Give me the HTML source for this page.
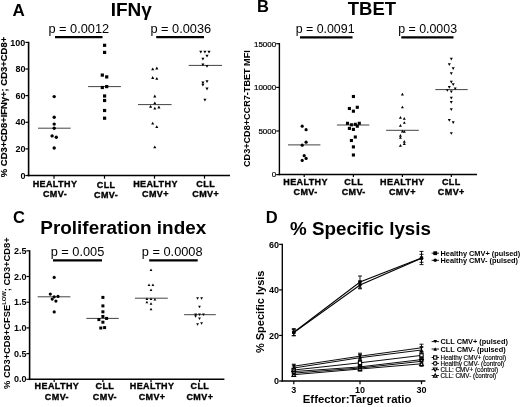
<!DOCTYPE html>
<html><head><meta charset="utf-8"><title>Figure</title>
<style>html,body{margin:0;padding:0;background:#fff}svg{display:block;filter:grayscale(1) blur(0.35px)}</style>
</head><body>
<svg width="520" height="407" viewBox="0 0 520 407" font-family='"Liberation Sans", Arial, sans-serif' fill="#000">
<rect width="520" height="407" fill="#fff"/>
<line x1="28.6" y1="41.8" x2="28.6" y2="176.3" stroke="#000" stroke-width="1.6" stroke-linecap="butt"/>
<line x1="27.8" y1="175.5" x2="230" y2="175.5" stroke="#000" stroke-width="1.6" stroke-linecap="butt"/>
<line x1="25.400000000000002" y1="175.5" x2="28.6" y2="175.5" stroke="#000" stroke-width="1.2" stroke-linecap="butt"/>
<text x="25.400000000000002" y="178.6" font-size="9" font-weight="bold" text-anchor="end">0</text>
<line x1="25.400000000000002" y1="148.9" x2="28.6" y2="148.9" stroke="#000" stroke-width="1.2" stroke-linecap="butt"/>
<text x="25.400000000000002" y="152.0" font-size="9" font-weight="bold" text-anchor="end">20</text>
<line x1="25.400000000000002" y1="122.3" x2="28.6" y2="122.3" stroke="#000" stroke-width="1.2" stroke-linecap="butt"/>
<text x="25.400000000000002" y="125.39999999999999" font-size="9" font-weight="bold" text-anchor="end">40</text>
<line x1="25.400000000000002" y1="95.6" x2="28.6" y2="95.6" stroke="#000" stroke-width="1.2" stroke-linecap="butt"/>
<text x="25.400000000000002" y="98.69999999999999" font-size="9" font-weight="bold" text-anchor="end">60</text>
<line x1="25.400000000000002" y1="69.0" x2="28.6" y2="69.0" stroke="#000" stroke-width="1.2" stroke-linecap="butt"/>
<text x="25.400000000000002" y="72.1" font-size="9" font-weight="bold" text-anchor="end">80</text>
<line x1="25.400000000000002" y1="42.4" x2="28.6" y2="42.4" stroke="#000" stroke-width="1.2" stroke-linecap="butt"/>
<text x="25.400000000000002" y="45.5" font-size="9" font-weight="bold" text-anchor="end">100</text>
<line x1="54" y1="175.5" x2="54" y2="178.7" stroke="#000" stroke-width="1.2" stroke-linecap="butt"/>
<line x1="104.5" y1="175.5" x2="104.5" y2="178.7" stroke="#000" stroke-width="1.2" stroke-linecap="butt"/>
<line x1="154.5" y1="175.5" x2="154.5" y2="178.7" stroke="#000" stroke-width="1.2" stroke-linecap="butt"/>
<line x1="204.5" y1="175.5" x2="204.5" y2="178.7" stroke="#000" stroke-width="1.2" stroke-linecap="butt"/>
<text x="55" y="187.1" font-size="9" font-weight="bold" text-anchor="middle" letter-spacing="0.4" stroke="#000" stroke-width="0.35">HEALTHY</text>
<text x="55" y="196.9" font-size="9" font-weight="bold" text-anchor="middle" letter-spacing="0.4" stroke="#000" stroke-width="0.35">CMV-</text>
<text x="106.1" y="187.7" font-size="9" font-weight="bold" text-anchor="middle" letter-spacing="0.4" stroke="#000" stroke-width="0.35">CLL</text>
<text x="106.1" y="197.5" font-size="9" font-weight="bold" text-anchor="middle" letter-spacing="0.4" stroke="#000" stroke-width="0.35">CMV-</text>
<text x="155.5" y="187.1" font-size="9" font-weight="bold" text-anchor="middle" letter-spacing="0.4" stroke="#000" stroke-width="0.35">HEALTHY</text>
<text x="155.5" y="196.9" font-size="9" font-weight="bold" text-anchor="middle" letter-spacing="0.4" stroke="#000" stroke-width="0.35">CMV+</text>
<text x="205.7" y="187.1" font-size="9" font-weight="bold" text-anchor="middle" letter-spacing="0.4" stroke="#000" stroke-width="0.35">CLL</text>
<text x="205.7" y="196.9" font-size="9" font-weight="bold" text-anchor="middle" letter-spacing="0.4" stroke="#000" stroke-width="0.35">CMV+</text>
<line x1="38" y1="128.2" x2="70.7" y2="128.2" stroke="#444" stroke-width="1.0" stroke-linecap="butt"/>
<circle cx="54.2" cy="96.6" r="1.7" fill="#000"/>
<circle cx="54.2" cy="117.3" r="1.7" fill="#000"/>
<circle cx="54.2" cy="124.1" r="1.7" fill="#000"/>
<circle cx="54.2" cy="128.2" r="1.7" fill="#000"/>
<circle cx="52.1" cy="135.9" r="1.7" fill="#000"/>
<circle cx="56.3" cy="137.3" r="1.7" fill="#000"/>
<circle cx="54.2" cy="148" r="1.7" fill="#000"/>
<line x1="88.1" y1="86.6" x2="120.9" y2="86.6" stroke="#444" stroke-width="1.0" stroke-linecap="butt"/>
<rect x="103.00" y="43.70" width="3.2" height="3.2" fill="#000"/>
<rect x="103.00" y="50.80" width="3.2" height="3.2" fill="#000"/>
<rect x="100.70" y="73.50" width="3.2" height="3.2" fill="#000"/>
<rect x="105.10" y="75.30" width="3.2" height="3.2" fill="#000"/>
<rect x="100.70" y="85.90" width="3.2" height="3.2" fill="#000"/>
<rect x="105.10" y="85.00" width="3.2" height="3.2" fill="#000"/>
<rect x="103.00" y="94.40" width="3.2" height="3.2" fill="#000"/>
<rect x="103.00" y="98.90" width="3.2" height="3.2" fill="#000"/>
<rect x="103.00" y="108.90" width="3.2" height="3.2" fill="#000"/>
<rect x="103.00" y="116.60" width="3.2" height="3.2" fill="#000"/>
<line x1="138" y1="104.6" x2="171.6" y2="104.6" stroke="#444" stroke-width="1.0" stroke-linecap="butt"/>
<polygon points="152.70,67.51 154.25,70.30 151.15,70.30" fill="#000"/>
<polygon points="156.80,66.61 158.35,69.39 155.25,69.39" fill="#000"/>
<polygon points="152.70,76.11 154.25,78.89 151.15,78.89" fill="#000"/>
<polygon points="156.80,76.91 158.35,79.69 155.25,79.69" fill="#000"/>
<polygon points="154.80,94.61 156.35,97.39 153.25,97.39" fill="#000"/>
<polygon points="154.80,101.41 156.35,104.19 153.25,104.19" fill="#000"/>
<polygon points="150.60,105.01 152.15,107.80 149.05,107.80" fill="#000"/>
<polygon points="154.80,106.70 156.35,109.49 153.25,109.49" fill="#000"/>
<polygon points="158.90,105.61 160.45,108.39 157.35,108.39" fill="#000"/>
<polygon points="152.70,121.81 154.25,124.59 151.15,124.59" fill="#000"/>
<polygon points="156.80,125.31 158.35,128.09 155.25,128.09" fill="#000"/>
<polygon points="154.80,145.41 156.35,148.20 153.25,148.20" fill="#000"/>
<line x1="188.7" y1="65.4" x2="222" y2="65.4" stroke="#444" stroke-width="1.0" stroke-linecap="butt"/>
<polygon points="200.80,53.50 202.35,50.70 199.25,50.70" fill="#000"/>
<polygon points="204.90,53.50 206.45,50.70 203.35,50.70" fill="#000"/>
<polygon points="209.00,53.50 210.55,50.70 207.45,50.70" fill="#000"/>
<polygon points="207.00,57.60 208.55,54.80 205.45,54.80" fill="#000"/>
<polygon points="202.90,60.60 204.45,57.80 201.35,57.80" fill="#000"/>
<polygon points="202.90,66.19 204.45,63.40 201.35,63.40" fill="#000"/>
<polygon points="207.00,67.69 208.55,64.91 205.45,64.91" fill="#000"/>
<polygon points="202.90,84.39 204.45,81.61 201.35,81.61" fill="#000"/>
<polygon points="207.00,82.99 208.55,80.20 205.45,80.20" fill="#000"/>
<polygon points="202.90,86.49 204.45,83.70 201.35,83.70" fill="#000"/>
<polygon points="207.00,90.39 208.55,87.61 205.45,87.61" fill="#000"/>
<polygon points="204.90,101.59 206.45,98.81 203.35,98.81" fill="#000"/>
<line x1="55" y1="37.2" x2="102.5" y2="37.2" stroke="#000" stroke-width="2.2" stroke-linecap="butt"/>
<text x="78.8" y="33.4" font-size="12.8" font-weight="normal" text-anchor="middle">p = 0.0012</text>
<line x1="156.2" y1="37.2" x2="204" y2="37.2" stroke="#000" stroke-width="2.2" stroke-linecap="butt"/>
<text x="180.8" y="33.4" font-size="12.8" font-weight="normal" text-anchor="middle">p = 0.0036</text>
<line x1="279.4" y1="43.1" x2="279.4" y2="175.2" stroke="#000" stroke-width="1.4" stroke-linecap="butt"/>
<line x1="278.7" y1="174.5" x2="477" y2="174.5" stroke="#000" stroke-width="1.4" stroke-linecap="butt"/>
<line x1="276.2" y1="174.6" x2="279.4" y2="174.6" stroke="#000" stroke-width="1.2" stroke-linecap="butt"/>
<text x="276.2" y="177.4" font-size="8" font-weight="normal" text-anchor="end" stroke="#000" stroke-width="0.22">0</text>
<line x1="276.2" y1="131.0" x2="279.4" y2="131.0" stroke="#000" stroke-width="1.2" stroke-linecap="butt"/>
<text x="276.2" y="133.8" font-size="8" font-weight="normal" text-anchor="end" stroke="#000" stroke-width="0.22">5000</text>
<line x1="276.2" y1="87.4" x2="279.4" y2="87.4" stroke="#000" stroke-width="1.2" stroke-linecap="butt"/>
<text x="276.2" y="90.2" font-size="8" font-weight="normal" text-anchor="end" stroke="#000" stroke-width="0.22">10000</text>
<line x1="276.2" y1="43.7" x2="279.4" y2="43.7" stroke="#000" stroke-width="1.2" stroke-linecap="butt"/>
<text x="276.2" y="46.5" font-size="8" font-weight="normal" text-anchor="end" stroke="#000" stroke-width="0.22">15000</text>
<line x1="304.2" y1="174.5" x2="304.2" y2="177.1" stroke="#000" stroke-width="1.2" stroke-linecap="butt"/>
<line x1="353.4" y1="174.5" x2="353.4" y2="177.1" stroke="#000" stroke-width="1.2" stroke-linecap="butt"/>
<line x1="402.4" y1="174.5" x2="402.4" y2="177.1" stroke="#000" stroke-width="1.2" stroke-linecap="butt"/>
<line x1="451.3" y1="174.5" x2="451.3" y2="177.1" stroke="#000" stroke-width="1.2" stroke-linecap="butt"/>
<text x="305.59999999999997" y="184.9" font-size="9" font-weight="bold" text-anchor="middle" letter-spacing="0.4" stroke="#000" stroke-width="0.35">HEALTHY</text>
<text x="305.59999999999997" y="195.1" font-size="9" font-weight="bold" text-anchor="middle" letter-spacing="0.4" stroke="#000" stroke-width="0.35">CMV-</text>
<text x="353.7" y="184.9" font-size="9" font-weight="bold" text-anchor="middle" letter-spacing="0.4" stroke="#000" stroke-width="0.35">CLL</text>
<text x="353.7" y="195.1" font-size="9" font-weight="bold" text-anchor="middle" letter-spacing="0.4" stroke="#000" stroke-width="0.35">CMV-</text>
<text x="402.4" y="184.9" font-size="9" font-weight="bold" text-anchor="middle" letter-spacing="0.4" stroke="#000" stroke-width="0.35">HEALTHY</text>
<text x="402.4" y="195.1" font-size="9" font-weight="bold" text-anchor="middle" letter-spacing="0.4" stroke="#000" stroke-width="0.35">CMV+</text>
<text x="451.3" y="184.9" font-size="9" font-weight="bold" text-anchor="middle" letter-spacing="0.4" stroke="#000" stroke-width="0.35">CLL</text>
<text x="451.3" y="195.1" font-size="9" font-weight="bold" text-anchor="middle" letter-spacing="0.4" stroke="#000" stroke-width="0.35">CMV+</text>
<line x1="288" y1="144.9" x2="320.4" y2="144.9" stroke="#444" stroke-width="1.0" stroke-linecap="butt"/>
<circle cx="302.2" cy="126.2" r="1.6" fill="#000"/>
<circle cx="306.1" cy="129.7" r="1.6" fill="#000"/>
<circle cx="306.1" cy="142.2" r="1.6" fill="#000"/>
<circle cx="302.2" cy="145.2" r="1.6" fill="#000"/>
<circle cx="304.2" cy="155.7" r="1.6" fill="#000"/>
<circle cx="306.1" cy="158.4" r="1.6" fill="#000"/>
<circle cx="302.2" cy="160.4" r="1.6" fill="#000"/>
<line x1="336.9" y1="125" x2="369.3" y2="125" stroke="#444" stroke-width="1.0" stroke-linecap="butt"/>
<rect x="351.85" y="94.95" width="3.1" height="3.1" fill="#000"/>
<rect x="347.85" y="106.95" width="3.1" height="3.1" fill="#000"/>
<rect x="355.75" y="105.75" width="3.1" height="3.1" fill="#000"/>
<rect x="351.85" y="109.65" width="3.1" height="3.1" fill="#000"/>
<rect x="345.95" y="121.75" width="3.1" height="3.1" fill="#000"/>
<rect x="349.85" y="123.25" width="3.1" height="3.1" fill="#000"/>
<rect x="353.75" y="122.75" width="3.1" height="3.1" fill="#000"/>
<rect x="357.75" y="121.75" width="3.1" height="3.1" fill="#000"/>
<rect x="355.75" y="124.65" width="3.1" height="3.1" fill="#000"/>
<rect x="347.85" y="126.85" width="3.1" height="3.1" fill="#000"/>
<rect x="351.85" y="127.85" width="3.1" height="3.1" fill="#000"/>
<rect x="353.75" y="135.45" width="3.1" height="3.1" fill="#000"/>
<rect x="349.85" y="138.95" width="3.1" height="3.1" fill="#000"/>
<rect x="351.85" y="145.35" width="3.1" height="3.1" fill="#000"/>
<rect x="351.85" y="153.45" width="3.1" height="3.1" fill="#000"/>
<line x1="386.1" y1="130.3" x2="418.8" y2="130.3" stroke="#444" stroke-width="1.0" stroke-linecap="butt"/>
<polygon points="402.40,92.85 403.90,95.55 400.90,95.55" fill="#000"/>
<polygon points="402.40,105.65 403.90,108.35 400.90,108.35" fill="#000"/>
<polygon points="400.40,115.95 401.90,118.65 398.90,118.65" fill="#000"/>
<polygon points="404.30,116.95 405.80,119.65 402.80,119.65" fill="#000"/>
<polygon points="404.30,121.15 405.80,123.85 402.80,123.85" fill="#000"/>
<polygon points="400.40,124.05 401.90,126.75 398.90,126.75" fill="#000"/>
<polygon points="402.40,129.75 403.90,132.45 400.90,132.45" fill="#000"/>
<polygon points="404.30,129.95 405.80,132.65 402.80,132.65" fill="#000"/>
<polygon points="400.40,133.95 401.90,136.65 398.90,136.65" fill="#000"/>
<polygon points="400.40,136.15 401.90,138.85 398.90,138.85" fill="#000"/>
<polygon points="404.30,140.05 405.80,142.75 402.80,142.75" fill="#000"/>
<polygon points="404.30,142.25 405.80,144.95 402.80,144.95" fill="#000"/>
<polygon points="400.40,143.95 401.90,146.65 398.90,146.65" fill="#000"/>
<line x1="435.3" y1="89.6" x2="467.7" y2="89.6" stroke="#444" stroke-width="1.0" stroke-linecap="butt"/>
<polygon points="451.30,60.45 452.80,57.75 449.80,57.75" fill="#000"/>
<polygon points="449.30,66.05 450.80,63.35 447.80,63.35" fill="#000"/>
<polygon points="453.20,70.05 454.70,67.35 451.70,67.35" fill="#000"/>
<polygon points="451.30,74.95 452.80,72.25 449.80,72.25" fill="#000"/>
<polygon points="451.30,83.55 452.80,80.85 449.80,80.85" fill="#000"/>
<polygon points="453.20,85.95 454.70,83.25 451.70,83.25" fill="#000"/>
<polygon points="449.30,88.65 450.80,85.95 447.80,85.95" fill="#000"/>
<polygon points="455.20,90.15 456.70,87.45 453.70,87.45" fill="#000"/>
<polygon points="447.30,91.85 448.80,89.15 445.80,89.15" fill="#000"/>
<polygon points="451.30,93.15 452.80,90.45 449.80,90.45" fill="#000"/>
<polygon points="451.30,99.55 452.80,96.85 449.80,96.85" fill="#000"/>
<polygon points="451.30,103.65 452.80,100.95 449.80,100.95" fill="#000"/>
<polygon points="451.30,111.05 452.80,108.35 449.80,108.35" fill="#000"/>
<polygon points="449.30,121.65 450.80,118.95 447.80,118.95" fill="#000"/>
<polygon points="453.20,124.05 454.70,121.35 451.70,121.35" fill="#000"/>
<polygon points="451.30,134.85 452.80,132.15 449.80,132.15" fill="#000"/>
<line x1="300" y1="37.3" x2="352.5" y2="37.3" stroke="#000" stroke-width="2.2" stroke-linecap="butt"/>
<text x="325.1" y="33.1" font-size="12.4" font-weight="normal" text-anchor="middle">p = 0.0091</text>
<line x1="401.3" y1="37.3" x2="453.5" y2="37.3" stroke="#000" stroke-width="2.2" stroke-linecap="butt"/>
<text x="427.6" y="33.1" font-size="12.4" font-weight="normal" text-anchor="middle">p = 0.0003</text>
<line x1="29.6" y1="250.20000000000002" x2="29.6" y2="380.1" stroke="#000" stroke-width="1.6" stroke-linecap="butt"/>
<line x1="28.8" y1="379.3" x2="224.4" y2="379.3" stroke="#000" stroke-width="1.6" stroke-linecap="butt"/>
<line x1="26.400000000000002" y1="379.3" x2="29.6" y2="379.3" stroke="#000" stroke-width="1.2" stroke-linecap="butt"/>
<text x="26.400000000000002" y="382.40000000000003" font-size="9" font-weight="bold" text-anchor="end">0.0</text>
<line x1="26.400000000000002" y1="353.6" x2="29.6" y2="353.6" stroke="#000" stroke-width="1.2" stroke-linecap="butt"/>
<text x="26.400000000000002" y="356.70000000000005" font-size="9" font-weight="bold" text-anchor="end">0.5</text>
<line x1="26.400000000000002" y1="327.9" x2="29.6" y2="327.9" stroke="#000" stroke-width="1.2" stroke-linecap="butt"/>
<text x="26.400000000000002" y="331.0" font-size="9" font-weight="bold" text-anchor="end">1.0</text>
<line x1="26.400000000000002" y1="302.2" x2="29.6" y2="302.2" stroke="#000" stroke-width="1.2" stroke-linecap="butt"/>
<text x="26.400000000000002" y="305.3" font-size="9" font-weight="bold" text-anchor="end">1.5</text>
<line x1="26.400000000000002" y1="276.5" x2="29.6" y2="276.5" stroke="#000" stroke-width="1.2" stroke-linecap="butt"/>
<text x="26.400000000000002" y="279.6" font-size="9" font-weight="bold" text-anchor="end">2.0</text>
<line x1="26.400000000000002" y1="250.8" x2="29.6" y2="250.8" stroke="#000" stroke-width="1.2" stroke-linecap="butt"/>
<text x="26.400000000000002" y="253.9" font-size="9" font-weight="bold" text-anchor="end">2.5</text>
<line x1="54.2" y1="379.3" x2="54.2" y2="381.90000000000003" stroke="#000" stroke-width="1.2" stroke-linecap="butt"/>
<line x1="102.9" y1="379.3" x2="102.9" y2="381.90000000000003" stroke="#000" stroke-width="1.2" stroke-linecap="butt"/>
<line x1="151.0" y1="379.3" x2="151.0" y2="381.90000000000003" stroke="#000" stroke-width="1.2" stroke-linecap="butt"/>
<line x1="199.5" y1="379.3" x2="199.5" y2="381.90000000000003" stroke="#000" stroke-width="1.2" stroke-linecap="butt"/>
<text x="56.900000000000006" y="389.3" font-size="9" font-weight="bold" text-anchor="middle" letter-spacing="0.4" stroke="#000" stroke-width="0.35">HEALTHY</text>
<text x="56.900000000000006" y="399.5" font-size="9" font-weight="bold" text-anchor="middle" letter-spacing="0.4" stroke="#000" stroke-width="0.35">CMV-</text>
<text x="104.9" y="389.3" font-size="9" font-weight="bold" text-anchor="middle" letter-spacing="0.4" stroke="#000" stroke-width="0.35">CLL</text>
<text x="104.9" y="399.5" font-size="9" font-weight="bold" text-anchor="middle" letter-spacing="0.4" stroke="#000" stroke-width="0.35">CMV-</text>
<text x="152.1" y="389.3" font-size="9" font-weight="bold" text-anchor="middle" letter-spacing="0.4" stroke="#000" stroke-width="0.35">HEALTHY</text>
<text x="152.1" y="399.5" font-size="9" font-weight="bold" text-anchor="middle" letter-spacing="0.4" stroke="#000" stroke-width="0.35">CMV+</text>
<text x="199.9" y="389.3" font-size="9" font-weight="bold" text-anchor="middle" letter-spacing="0.4" stroke="#000" stroke-width="0.35">CLL</text>
<text x="199.9" y="399.5" font-size="9" font-weight="bold" text-anchor="middle" letter-spacing="0.4" stroke="#000" stroke-width="0.35">CMV+</text>
<line x1="37.7" y1="296.8" x2="70.4" y2="296.8" stroke="#444" stroke-width="1.0" stroke-linecap="butt"/>
<circle cx="54.2" cy="277.4" r="1.6" fill="#000"/>
<circle cx="50.3" cy="294.1" r="1.6" fill="#000"/>
<circle cx="54.2" cy="296.8" r="1.6" fill="#000"/>
<circle cx="58" cy="296.4" r="1.6" fill="#000"/>
<circle cx="52.2" cy="299.1" r="1.6" fill="#000"/>
<circle cx="55.9" cy="301.1" r="1.6" fill="#000"/>
<circle cx="54.2" cy="311.9" r="1.6" fill="#000"/>
<line x1="86.4" y1="318.4" x2="118.8" y2="318.4" stroke="#444" stroke-width="1.0" stroke-linecap="butt"/>
<rect x="101.40" y="295.90" width="3.0" height="3.0" fill="#000"/>
<rect x="101.40" y="304.40" width="3.0" height="3.0" fill="#000"/>
<rect x="101.40" y="310.30" width="3.0" height="3.0" fill="#000"/>
<rect x="101.40" y="315.00" width="3.0" height="3.0" fill="#000"/>
<rect x="97.40" y="318.10" width="3.0" height="3.0" fill="#000"/>
<rect x="105.10" y="316.90" width="3.0" height="3.0" fill="#000"/>
<rect x="101.40" y="320.70" width="3.0" height="3.0" fill="#000"/>
<rect x="99.30" y="326.50" width="3.0" height="3.0" fill="#000"/>
<rect x="103.10" y="326.10" width="3.0" height="3.0" fill="#000"/>
<line x1="135" y1="298.2" x2="167.8" y2="298.2" stroke="#444" stroke-width="1.0" stroke-linecap="butt"/>
<polygon points="151.00,268.44 152.40,270.96 149.60,270.96" fill="#000"/>
<polygon points="149.00,283.44 150.40,285.96 147.60,285.96" fill="#000"/>
<polygon points="152.90,283.44 154.30,285.96 151.50,285.96" fill="#000"/>
<polygon points="151.00,288.44 152.40,290.96 149.60,290.96" fill="#000"/>
<polygon points="146.90,297.54 148.30,300.06 145.50,300.06" fill="#000"/>
<polygon points="151.00,297.54 152.40,300.06 149.60,300.06" fill="#000"/>
<polygon points="154.90,297.94 156.30,300.46 153.50,300.46" fill="#000"/>
<polygon points="146.90,300.84 148.30,303.36 145.50,303.36" fill="#000"/>
<polygon points="151.00,302.34 152.40,304.86 149.60,304.86" fill="#000"/>
<polygon points="151.00,307.74 152.40,310.26 149.60,310.26" fill="#000"/>
<line x1="184.1" y1="314.7" x2="215.8" y2="314.7" stroke="#444" stroke-width="1.0" stroke-linecap="butt"/>
<polygon points="197.60,299.76 199.00,297.24 196.20,297.24" fill="#000"/>
<polygon points="201.60,299.76 203.00,297.24 200.20,297.24" fill="#000"/>
<polygon points="199.50,308.26 200.90,305.74 198.10,305.74" fill="#000"/>
<polygon points="195.60,315.96 197.00,313.44 194.20,313.44" fill="#000"/>
<polygon points="199.50,315.96 200.90,313.44 198.10,313.44" fill="#000"/>
<polygon points="203.50,315.96 204.90,313.44 202.10,313.44" fill="#000"/>
<polygon points="195.60,317.66 197.00,315.14 194.20,315.14" fill="#000"/>
<polygon points="199.50,320.06 200.90,317.54 198.10,317.54" fill="#000"/>
<polygon points="197.60,325.86 199.00,323.34 196.20,323.34" fill="#000"/>
<polygon points="201.60,324.76 203.00,322.24 200.20,322.24" fill="#000"/>
<line x1="53" y1="260.3" x2="102" y2="260.3" stroke="#000" stroke-width="2.2" stroke-linecap="butt"/>
<text x="77.5" y="255.5" font-size="12.8" font-weight="normal" text-anchor="middle">p = 0.005</text>
<line x1="149.2" y1="260.3" x2="197.7" y2="260.3" stroke="#000" stroke-width="2.2" stroke-linecap="butt"/>
<text x="172.2" y="255.5" font-size="12.8" font-weight="normal" text-anchor="middle">p = 0.0008</text>
<text x="12.6" y="16" font-size="17" font-weight="bold" text-anchor="start">A</text>
<text x="131.3" y="15.6" font-size="19" font-weight="bold" text-anchor="middle">IFNγ</text>
<text x="257" y="12.3" font-size="16.5" font-weight="bold" text-anchor="start">B</text>
<text x="371.9" y="15.2" font-size="18.5" font-weight="bold" text-anchor="middle">TBET</text>
<text x="13" y="223.4" font-size="16.5" font-weight="bold" text-anchor="start">C</text>
<text x="123.3" y="234.4" font-size="18.9" font-weight="bold" text-anchor="middle">Proliferation index</text>
<text x="265.8" y="223.3" font-size="16.5" font-weight="bold" text-anchor="start">D</text>
<text x="360.5" y="235.2" font-size="18.8" font-weight="bold" text-anchor="middle">% Specific lysis</text>
<text x="6.9" y="107" font-size="9.45" font-weight="bold" text-anchor="middle" transform="rotate(-90 6.9 107)" stroke="#000" stroke-width="0.15">% CD3+CD8+IFNγ+; CD3+CD8+</text>
<text x="250.4" y="108.6" font-size="9.1" font-weight="bold" text-anchor="middle" transform="rotate(-90 250.4 108.6)">CD3+CD8+CCR7-TBET MFI</text>
<text x="9.6" y="313.1" font-size="9.35" font-weight="bold" text-anchor="middle" transform="rotate(-90 9.6 313.1)">% CD3+CD8+CFSE<tspan font-size="5.8" dy="-3.6">LOW</tspan><tspan dy="3.6">; CD3+CD8+</tspan></text>
<line x1="282.3" y1="243.75000000000003" x2="282.3" y2="381.675" stroke="#000" stroke-width="1.35" stroke-linecap="butt"/>
<line x1="281.625" y1="381.0" x2="425.4" y2="381.0" stroke="#000" stroke-width="1.35" stroke-linecap="butt"/>
<line x1="279.1" y1="381.0" x2="282.3" y2="381.0" stroke="#000" stroke-width="1.2" stroke-linecap="butt"/>
<text x="279.1" y="384.2" font-size="9" font-weight="bold" text-anchor="end">0</text>
<line x1="279.1" y1="335.45" x2="282.3" y2="335.45" stroke="#000" stroke-width="1.2" stroke-linecap="butt"/>
<text x="279.1" y="338.65" font-size="9" font-weight="bold" text-anchor="end">20</text>
<line x1="279.1" y1="289.9" x2="282.3" y2="289.9" stroke="#000" stroke-width="1.2" stroke-linecap="butt"/>
<text x="279.1" y="293.09999999999997" font-size="9" font-weight="bold" text-anchor="end">40</text>
<line x1="279.1" y1="244.35000000000002" x2="282.3" y2="244.35000000000002" stroke="#000" stroke-width="1.2" stroke-linecap="butt"/>
<text x="279.1" y="247.55" font-size="9" font-weight="bold" text-anchor="end">60</text>
<line x1="293.8" y1="381.0" x2="293.8" y2="384.2" stroke="#000" stroke-width="1.2" stroke-linecap="butt"/>
<text x="293.8" y="393.2" font-size="9" font-weight="bold" text-anchor="middle">3</text>
<line x1="360" y1="381.0" x2="360" y2="384.2" stroke="#000" stroke-width="1.2" stroke-linecap="butt"/>
<text x="360" y="393.2" font-size="9" font-weight="bold" text-anchor="middle">10</text>
<line x1="421.5" y1="381.0" x2="421.5" y2="384.2" stroke="#000" stroke-width="1.2" stroke-linecap="butt"/>
<text x="421.5" y="393.2" font-size="9" font-weight="bold" text-anchor="middle">30</text>
<text x="357.1" y="403.4" font-size="11.4" font-weight="bold" text-anchor="middle">Effector:Target ratio</text>
<text x="264" y="311.8" font-size="11" font-weight="bold" text-anchor="middle" transform="rotate(-90 264 311.8)">% Specific lysis</text>
<polyline points="293.8,332.2 360,282.0 421.5,258.0" fill="none" stroke="#000" stroke-width="1.1"/>
<line x1="293.8" y1="328.59999999999997" x2="293.8" y2="335.8" stroke="#000" stroke-width="0.9" stroke-linecap="butt"/>
<line x1="291.8" y1="328.59999999999997" x2="295.8" y2="328.59999999999997" stroke="#000" stroke-width="0.9" stroke-linecap="butt"/>
<line x1="291.8" y1="335.8" x2="295.8" y2="335.8" stroke="#000" stroke-width="0.9" stroke-linecap="butt"/>
<line x1="360" y1="276.0" x2="360" y2="288.0" stroke="#000" stroke-width="0.9" stroke-linecap="butt"/>
<line x1="358" y1="276.0" x2="362" y2="276.0" stroke="#000" stroke-width="0.9" stroke-linecap="butt"/>
<line x1="358" y1="288.0" x2="362" y2="288.0" stroke="#000" stroke-width="0.9" stroke-linecap="butt"/>
<line x1="421.5" y1="251.4" x2="421.5" y2="264.6" stroke="#000" stroke-width="0.9" stroke-linecap="butt"/>
<line x1="419.5" y1="251.4" x2="423.5" y2="251.4" stroke="#000" stroke-width="0.9" stroke-linecap="butt"/>
<line x1="419.5" y1="264.6" x2="423.5" y2="264.6" stroke="#000" stroke-width="0.9" stroke-linecap="butt"/>
<rect x="292.15" y="330.55" width="3.3" height="3.3" fill="#000"/>
<rect x="358.35" y="280.35" width="3.3" height="3.3" fill="#000"/>
<rect x="419.85" y="256.35" width="3.3" height="3.3" fill="#000"/>
<polyline points="293.8,332.6 360,285.0 421.5,258.3" fill="none" stroke="#000" stroke-width="1.1"/>
<line x1="293.8" y1="329.6" x2="293.8" y2="335.6" stroke="#000" stroke-width="0.9" stroke-linecap="butt"/>
<line x1="291.8" y1="329.6" x2="295.8" y2="329.6" stroke="#000" stroke-width="0.9" stroke-linecap="butt"/>
<line x1="291.8" y1="335.6" x2="295.8" y2="335.6" stroke="#000" stroke-width="0.9" stroke-linecap="butt"/>
<line x1="360" y1="281.2" x2="360" y2="288.8" stroke="#000" stroke-width="0.9" stroke-linecap="butt"/>
<line x1="358" y1="281.2" x2="362" y2="281.2" stroke="#000" stroke-width="0.9" stroke-linecap="butt"/>
<line x1="358" y1="288.8" x2="362" y2="288.8" stroke="#000" stroke-width="0.9" stroke-linecap="butt"/>
<line x1="421.5" y1="254.3" x2="421.5" y2="262.3" stroke="#000" stroke-width="0.9" stroke-linecap="butt"/>
<line x1="419.5" y1="254.3" x2="423.5" y2="254.3" stroke="#000" stroke-width="0.9" stroke-linecap="butt"/>
<line x1="419.5" y1="262.3" x2="423.5" y2="262.3" stroke="#000" stroke-width="0.9" stroke-linecap="butt"/>
<circle cx="293.8" cy="332.6" r="1.75" fill="#000"/>
<circle cx="360" cy="285.0" r="1.75" fill="#000"/>
<circle cx="421.5" cy="258.3" r="1.75" fill="#000"/>
<polyline points="293.8,366.2 360,356.2 421.5,347.8" fill="none" stroke="#000" stroke-width="0.95"/>
<line x1="293.8" y1="364.2" x2="293.8" y2="368.2" stroke="#000" stroke-width="0.9" stroke-linecap="butt"/>
<line x1="291.8" y1="364.2" x2="295.8" y2="364.2" stroke="#000" stroke-width="0.9" stroke-linecap="butt"/>
<line x1="291.8" y1="368.2" x2="295.8" y2="368.2" stroke="#000" stroke-width="0.9" stroke-linecap="butt"/>
<line x1="360" y1="353.2" x2="360" y2="359.2" stroke="#000" stroke-width="0.9" stroke-linecap="butt"/>
<line x1="358" y1="353.2" x2="362" y2="353.2" stroke="#000" stroke-width="0.9" stroke-linecap="butt"/>
<line x1="358" y1="359.2" x2="362" y2="359.2" stroke="#000" stroke-width="0.9" stroke-linecap="butt"/>
<line x1="421.5" y1="344.2" x2="421.5" y2="351.40000000000003" stroke="#000" stroke-width="0.9" stroke-linecap="butt"/>
<line x1="419.5" y1="344.2" x2="423.5" y2="344.2" stroke="#000" stroke-width="0.9" stroke-linecap="butt"/>
<line x1="419.5" y1="351.40000000000003" x2="423.5" y2="351.40000000000003" stroke="#000" stroke-width="0.9" stroke-linecap="butt"/>
<polygon points="293.80,367.87 295.65,364.53 291.95,364.53" fill="#000"/>
<polygon points="360.00,357.87 361.85,354.53 358.15,354.53" fill="#000"/>
<polygon points="421.50,349.47 423.35,346.13 419.65,346.13" fill="#000"/>
<polyline points="293.8,368.0 360,357.7 421.5,350.0" fill="none" stroke="#000" stroke-width="0.95"/>
<line x1="293.8" y1="366.0" x2="293.8" y2="370.0" stroke="#000" stroke-width="0.9" stroke-linecap="butt"/>
<line x1="291.8" y1="366.0" x2="295.8" y2="366.0" stroke="#000" stroke-width="0.9" stroke-linecap="butt"/>
<line x1="291.8" y1="370.0" x2="295.8" y2="370.0" stroke="#000" stroke-width="0.9" stroke-linecap="butt"/>
<line x1="360" y1="354.7" x2="360" y2="360.7" stroke="#000" stroke-width="0.9" stroke-linecap="butt"/>
<line x1="358" y1="354.7" x2="362" y2="354.7" stroke="#000" stroke-width="0.9" stroke-linecap="butt"/>
<line x1="358" y1="360.7" x2="362" y2="360.7" stroke="#000" stroke-width="0.9" stroke-linecap="butt"/>
<line x1="421.5" y1="347.0" x2="421.5" y2="353.0" stroke="#000" stroke-width="0.9" stroke-linecap="butt"/>
<line x1="419.5" y1="347.0" x2="423.5" y2="347.0" stroke="#000" stroke-width="0.9" stroke-linecap="butt"/>
<line x1="419.5" y1="353.0" x2="423.5" y2="353.0" stroke="#000" stroke-width="0.9" stroke-linecap="butt"/>
<polygon points="293.80,366.33 295.65,369.67 291.95,369.67" fill="#000"/>
<polygon points="360.00,356.03 361.85,359.37 358.15,359.37" fill="#000"/>
<polygon points="421.50,348.33 423.35,351.67 419.65,351.67" fill="#000"/>
<polyline points="293.8,370.0 360,362.8 421.5,355.4" fill="none" stroke="#000" stroke-width="0.95"/>
<line x1="293.8" y1="368.5" x2="293.8" y2="371.5" stroke="#000" stroke-width="0.9" stroke-linecap="butt"/>
<line x1="291.8" y1="368.5" x2="295.8" y2="368.5" stroke="#000" stroke-width="0.9" stroke-linecap="butt"/>
<line x1="291.8" y1="371.5" x2="295.8" y2="371.5" stroke="#000" stroke-width="0.9" stroke-linecap="butt"/>
<line x1="360" y1="360.8" x2="360" y2="364.8" stroke="#000" stroke-width="0.9" stroke-linecap="butt"/>
<line x1="358" y1="360.8" x2="362" y2="360.8" stroke="#000" stroke-width="0.9" stroke-linecap="butt"/>
<line x1="358" y1="364.8" x2="362" y2="364.8" stroke="#000" stroke-width="0.9" stroke-linecap="butt"/>
<line x1="421.5" y1="352.9" x2="421.5" y2="357.9" stroke="#000" stroke-width="0.9" stroke-linecap="butt"/>
<line x1="419.5" y1="352.9" x2="423.5" y2="352.9" stroke="#000" stroke-width="0.9" stroke-linecap="butt"/>
<line x1="419.5" y1="357.9" x2="423.5" y2="357.9" stroke="#000" stroke-width="0.9" stroke-linecap="butt"/>
<rect x="292.15" y="368.35" width="3.3" height="3.3" fill="#fff" stroke="#000" stroke-width="1.1"/>
<rect x="358.35" y="361.15" width="3.3" height="3.3" fill="#fff" stroke="#000" stroke-width="1.1"/>
<rect x="419.85" y="353.75" width="3.3" height="3.3" fill="#fff" stroke="#000" stroke-width="1.1"/>
<polyline points="293.8,371.6 360,366.9 421.5,359.6" fill="none" stroke="#000" stroke-width="0.95"/>
<line x1="293.8" y1="370.1" x2="293.8" y2="373.1" stroke="#000" stroke-width="0.9" stroke-linecap="butt"/>
<line x1="291.8" y1="370.1" x2="295.8" y2="370.1" stroke="#000" stroke-width="0.9" stroke-linecap="butt"/>
<line x1="291.8" y1="373.1" x2="295.8" y2="373.1" stroke="#000" stroke-width="0.9" stroke-linecap="butt"/>
<line x1="360" y1="364.9" x2="360" y2="368.9" stroke="#000" stroke-width="0.9" stroke-linecap="butt"/>
<line x1="358" y1="364.9" x2="362" y2="364.9" stroke="#000" stroke-width="0.9" stroke-linecap="butt"/>
<line x1="358" y1="368.9" x2="362" y2="368.9" stroke="#000" stroke-width="0.9" stroke-linecap="butt"/>
<line x1="421.5" y1="357.1" x2="421.5" y2="362.1" stroke="#000" stroke-width="0.9" stroke-linecap="butt"/>
<line x1="419.5" y1="357.1" x2="423.5" y2="357.1" stroke="#000" stroke-width="0.9" stroke-linecap="butt"/>
<line x1="419.5" y1="362.1" x2="423.5" y2="362.1" stroke="#000" stroke-width="0.9" stroke-linecap="butt"/>
<circle cx="293.8" cy="371.6" r="1.75" fill="#fff" stroke="#000" stroke-width="1.1"/>
<circle cx="360" cy="366.9" r="1.75" fill="#fff" stroke="#000" stroke-width="1.1"/>
<circle cx="421.5" cy="359.6" r="1.75" fill="#fff" stroke="#000" stroke-width="1.1"/>
<polyline points="293.8,373.1 360,368.0 421.5,361.3" fill="none" stroke="#000" stroke-width="0.95"/>
<line x1="293.8" y1="371.6" x2="293.8" y2="374.6" stroke="#000" stroke-width="0.9" stroke-linecap="butt"/>
<line x1="291.8" y1="371.6" x2="295.8" y2="371.6" stroke="#000" stroke-width="0.9" stroke-linecap="butt"/>
<line x1="291.8" y1="374.6" x2="295.8" y2="374.6" stroke="#000" stroke-width="0.9" stroke-linecap="butt"/>
<line x1="360" y1="366.0" x2="360" y2="370.0" stroke="#000" stroke-width="0.9" stroke-linecap="butt"/>
<line x1="358" y1="366.0" x2="362" y2="366.0" stroke="#000" stroke-width="0.9" stroke-linecap="butt"/>
<line x1="358" y1="370.0" x2="362" y2="370.0" stroke="#000" stroke-width="0.9" stroke-linecap="butt"/>
<line x1="421.5" y1="358.8" x2="421.5" y2="363.8" stroke="#000" stroke-width="0.9" stroke-linecap="butt"/>
<line x1="419.5" y1="358.8" x2="423.5" y2="358.8" stroke="#000" stroke-width="0.9" stroke-linecap="butt"/>
<line x1="419.5" y1="363.8" x2="423.5" y2="363.8" stroke="#000" stroke-width="0.9" stroke-linecap="butt"/>
<polygon points="293.80,374.77 295.65,371.44 291.95,371.44" fill="#fff" stroke="#000" stroke-width="1.1"/>
<polygon points="360.00,369.67 361.85,366.33 358.15,366.33" fill="#fff" stroke="#000" stroke-width="1.1"/>
<polygon points="421.50,362.97 423.35,359.63 419.65,359.63" fill="#fff" stroke="#000" stroke-width="1.1"/>
<polyline points="293.8,374.7 360,369.0 421.5,363.8" fill="none" stroke="#000" stroke-width="0.95"/>
<line x1="293.8" y1="373.2" x2="293.8" y2="376.2" stroke="#000" stroke-width="0.9" stroke-linecap="butt"/>
<line x1="291.8" y1="373.2" x2="295.8" y2="373.2" stroke="#000" stroke-width="0.9" stroke-linecap="butt"/>
<line x1="291.8" y1="376.2" x2="295.8" y2="376.2" stroke="#000" stroke-width="0.9" stroke-linecap="butt"/>
<line x1="360" y1="367.0" x2="360" y2="371.0" stroke="#000" stroke-width="0.9" stroke-linecap="butt"/>
<line x1="358" y1="367.0" x2="362" y2="367.0" stroke="#000" stroke-width="0.9" stroke-linecap="butt"/>
<line x1="358" y1="371.0" x2="362" y2="371.0" stroke="#000" stroke-width="0.9" stroke-linecap="butt"/>
<line x1="421.5" y1="361.3" x2="421.5" y2="366.3" stroke="#000" stroke-width="0.9" stroke-linecap="butt"/>
<line x1="419.5" y1="361.3" x2="423.5" y2="361.3" stroke="#000" stroke-width="0.9" stroke-linecap="butt"/>
<line x1="419.5" y1="366.3" x2="423.5" y2="366.3" stroke="#000" stroke-width="0.9" stroke-linecap="butt"/>
<polygon points="293.80,373.03 295.65,376.37 291.95,376.37" fill="#fff" stroke="#000" stroke-width="1.1"/>
<polygon points="360.00,367.33 361.85,370.67 358.15,370.67" fill="#fff" stroke="#000" stroke-width="1.1"/>
<polygon points="421.50,362.13 423.35,365.47 419.65,365.47" fill="#fff" stroke="#000" stroke-width="1.1"/>
<line x1="431.6" y1="253.2" x2="439" y2="253.2" stroke="#000" stroke-width="0.9" stroke-linecap="butt"/>
<rect x="433.30" y="251.30" width="3.7949999999999995" height="3.7949999999999995" fill="#000"/>
<text x="440.5" y="255.79999999999998" font-size="7.35" font-weight="bold" text-anchor="start">Healthy CMV+ (pulsed)</text>
<line x1="431.6" y1="260.3" x2="439" y2="260.3" stroke="#000" stroke-width="0.9" stroke-linecap="butt"/>
<circle cx="435.2" cy="260.3" r="1.75" fill="#000"/>
<text x="440.5" y="262.90000000000003" font-size="7.35" font-weight="bold" text-anchor="start">Healthy CMV- (pulsed)</text>
<line x1="431.6" y1="341.6" x2="439" y2="341.6" stroke="#000" stroke-width="0.9" stroke-linecap="butt"/>
<polygon points="435.20,343.27 437.05,339.94 433.35,339.94" fill="#000"/>
<text x="440.5" y="344.20000000000005" font-size="7.35" font-weight="bold" text-anchor="start">CLL CMV+ (pulsed)</text>
<line x1="431.6" y1="349" x2="439" y2="349" stroke="#000" stroke-width="0.9" stroke-linecap="butt"/>
<polygon points="435.20,347.33 437.05,350.67 433.35,350.67" fill="#000"/>
<text x="440.5" y="351.6" font-size="7.35" font-weight="bold" text-anchor="start">CLL CMV- (pulsed)</text>
<line x1="431.6" y1="357.5" x2="439" y2="357.5" stroke="#000" stroke-width="0.9" stroke-linecap="butt"/>
<rect x="433.55" y="355.85" width="3.3" height="3.3" fill="#fff" stroke="#000" stroke-width="1.1"/>
<text x="440.5" y="359.7" font-size="6.3" font-weight="normal" text-anchor="start" stroke="#000" stroke-width="0.15">Healthy CMV+ (control)</text>
<line x1="431.6" y1="363.4" x2="439" y2="363.4" stroke="#000" stroke-width="0.9" stroke-linecap="butt"/>
<circle cx="435.2" cy="363.4" r="1.75" fill="#fff" stroke="#000" stroke-width="1.1"/>
<text x="440.5" y="365.59999999999997" font-size="6.3" font-weight="normal" text-anchor="start" stroke="#000" stroke-width="0.15">Healthy CMV- (control)</text>
<line x1="431.6" y1="369.6" x2="439" y2="369.6" stroke="#000" stroke-width="0.9" stroke-linecap="butt"/>
<polygon points="435.20,371.27 437.05,367.94 433.35,367.94" fill="#fff" stroke="#000" stroke-width="1.1"/>
<text x="440.5" y="371.8" font-size="6.3" font-weight="normal" text-anchor="start" stroke="#000" stroke-width="0.15">CLL: CMV+ (control)</text>
<line x1="431.6" y1="375.5" x2="439" y2="375.5" stroke="#000" stroke-width="0.9" stroke-linecap="butt"/>
<polygon points="435.20,373.83 437.05,377.17 433.35,377.17" fill="#fff" stroke="#000" stroke-width="1.1"/>
<text x="440.5" y="377.7" font-size="6.3" font-weight="normal" text-anchor="start" stroke="#000" stroke-width="0.15">CLL: CMV- (control)</text>
</svg>
</body></html>
